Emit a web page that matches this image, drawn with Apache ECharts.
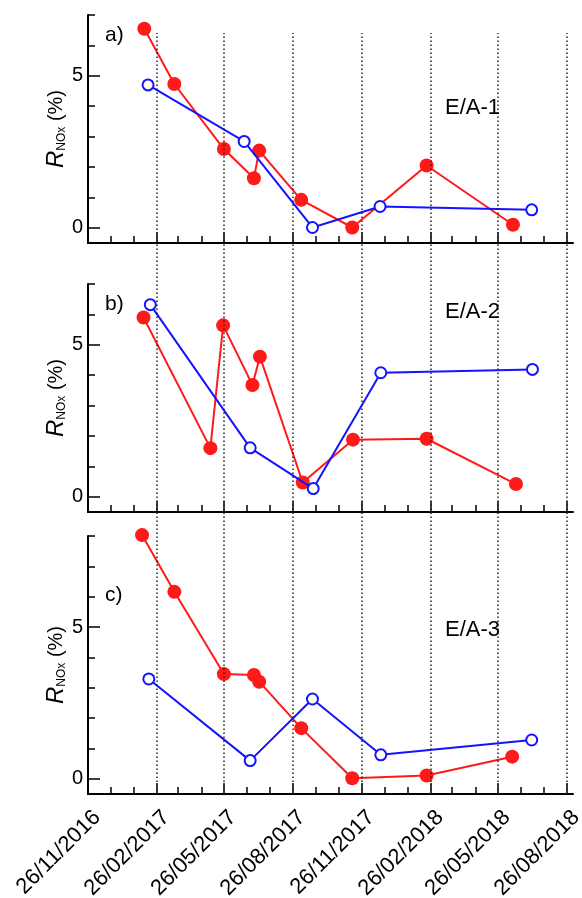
<!DOCTYPE html>
<html>
<head>
<meta charset="utf-8">
<script src="https://cdn.jsdelivr.net/npm/echarts@6/dist/echarts.min.js"></script>
<style>
  html, body { margin: 0; padding: 0; background: #fff; }
  #main { width: 582px; height: 898px; }
</style>
</head>
<body>
<div id="main"></div>
<script>
// panel a) E/A-1
var redDatesA = ['2017-02-09', '2017-03-21', '2017-05-26', '2017-07-05', '2017-07-12', '2017-09-06', '2017-11-13', '2018-02-20', '2018-06-15'];
var redValsA = [6.55, 4.73, 2.59, 1.63, 2.54, 0.92, 0.01, 2.05, 0.10];
var blueDatesA = ['2017-02-14', '2017-06-22', '2017-09-21', '2017-12-20', '2018-07-10'];
var blueValsA = [4.70, 2.84, 0.01, 0.70, 0.59];

// panel b) E/A-2
var redDatesB = ['2017-02-08', '2017-05-08', '2017-05-25', '2017-07-03', '2017-07-13', '2017-09-08', '2017-11-14', '2018-02-20', '2018-06-19'];
var redValsB = [5.90, 1.60, 5.64, 3.68, 4.61, 0.47, 1.88, 1.91, 0.42];
var blueDatesB = ['2017-02-17', '2017-06-30', '2017-09-22', '2017-12-21', '2018-07-11'];
var blueValsB = [6.32, 1.61, 0.27, 4.08, 4.19];

// panel c) E/A-3
var redDatesC = ['2017-02-06', '2017-03-21', '2017-05-26', '2017-07-05', '2017-07-12', '2017-09-06', '2017-11-13', '2018-02-20', '2018-06-14'];
var redValsC = [8.03, 6.16, 3.45, 3.42, 3.20, 1.67, 0.02, 0.11, 0.73];
var blueDatesC = ['2017-02-15', '2017-06-30', '2017-09-21', '2017-12-21', '2018-07-10'];
var blueValsC = [3.29, 0.60, 2.63, 0.79, 1.28];

// ticks
var majorTickDates = ['2016-11-26', '2017-02-26', '2017-05-26', '2017-08-26', '2017-11-26', '2018-02-26', '2018-05-26', '2018-08-26'];
var dottedDates = ['2017-02-26', '2017-05-26', '2017-08-26', '2017-11-26', '2018-02-26', '2018-05-26', '2018-08-26'];
var yMajor = [0, 5];
var yMinorAB = [1, 2, 3, 4, 6, 7];
var yMinorC = [1, 2, 3, 4, 6, 7, 8];

var panelLetters = ['a)', 'b)', 'c)'];
var panelNames = ['E/A-1', 'E/A-2', 'E/A-3'];

function t(s) {
    var p = s.split('-');
    return Date.UTC(+p[0], +p[1] - 1, +p[2]);
}
function pairs(dates, vals) {
    return dates.map(function (d, i) { return [t(d), vals[i]]; });
}
function fmtDate(v) {
    var d = new Date(v);
    var dd = ('0' + d.getUTCDate()).slice(-2);
    var mm = ('0' + (d.getUTCMonth() + 1)).slice(-2);
    return dd + '/' + mm + '/' + d.getUTCFullYear();
}

// monthly minor ticks on the 26th
var minorTicks = [];
for (var m = 0; m <= 21; m++) {
    minorTicks.push(Date.UTC(2016, 10 + m, 26));
}

var X_MIN = t('2016-11-26');
var X_MAX = t('2018-09-03');
var FONT = 'Liberation Sans, Arial, sans-serif';
var RED = '#ff1a1a';
var BLUE = '#1414ff';

var grids = [
    {left: 88, right: 9, top: 15, height: 228},
    {left: 88, right: 9, top: 284, height: 228},
    {left: 88, right: 9, top: 536, height: 258},
    {left: 88, right: 9, top: 33, height: 761},   // background for dotted lines
    {left: 97, width: 485, top: 536, height: 258}  // date labels, set a bit right of the ticks
];
grids.forEach(function (g) { g.outerBoundsMode = 'none'; });

var xAxes = [];
var yAxes = [];
var series = [];

[0, 1, 2].forEach(function (i) {
    var last = i === 2;
    xAxes.push({
        type: 'value', gridIndex: i, min: X_MIN, max: X_MAX, position: 'bottom',
        splitLine: {show: false},
        axisLine: {show: true, onZero: false, lineStyle: {color: '#000', width: 2}},
        axisTick: {show: true, inside: true, length: 11, customValues: majorTickDates.map(t),
            lineStyle: {color: '#000', width: 1.5}},
        axisLabel: {show: false}
    });
    xAxes.push({
        type: 'value', gridIndex: i, min: X_MIN, max: X_MAX, position: 'bottom',
        splitLine: {show: false},
        axisLine: {show: false, onZero: false},
        axisTick: {show: true, inside: true, length: 7, customValues: minorTicks,
            lineStyle: {color: '#000', width: 1.5}},
        axisLabel: {show: false}
    });
    var yMax = last ? 8 : 7;
    yAxes.push({
        type: 'value', gridIndex: i, min: -0.5, max: yMax, position: 'left',
        splitLine: {show: false},
        axisLine: {show: true, onZero: false, lineStyle: {color: '#000', width: 2}},
        axisTick: {show: true, inside: true, length: 12, customValues: yMajor,
            lineStyle: {color: '#000', width: 1.5}},
        axisLabel: {show: true, customValues: yMajor, margin: 5, fontSize: 20,
            fontFamily: FONT, color: '#000'},
        name: '{r|R}{s|NOx}{n| (%)}',
        nameLocation: 'middle',
        nameRotate: 90,
        nameGap: 20,
        nameMoveOverlap: false,
        nameTextStyle: {
            rich: {
                r: {fontSize: 24, fontStyle: 'italic', fontFamily: FONT, color: '#000', lineHeight: 24},
                s: {fontSize: 12, fontFamily: FONT, color: '#000', verticalAlign: 'bottom', lineHeight: 24},
                n: {fontSize: 20, fontFamily: FONT, color: '#000', lineHeight: 24}
            }
        }
    });
    yAxes.push({
        type: 'value', gridIndex: i, min: -0.5, max: yMax, position: 'left',
        splitLine: {show: false},
        axisLine: {show: false, onZero: false},
        axisTick: {show: true, inside: true, length: 7, customValues: last ? yMinorC : yMinorAB,
            lineStyle: {color: '#000', width: 1.5}},
        axisLabel: {show: false}
    });
});

// background axes for the dotted date lines
xAxes.push({type: 'value', gridIndex: 3, min: X_MIN, max: X_MAX, show: false});
yAxes.push({type: 'value', gridIndex: 3, min: 0, max: 1, show: false});

// date label axis
xAxes.push({
    type: 'value', gridIndex: 4, min: X_MIN, max: X_MAX, position: 'bottom',
    splitLine: {show: false},
    axisLine: {show: false, onZero: false},
    axisTick: {show: false},
    axisLabel: {show: true, customValues: majorTickDates.map(t), rotate: 45, margin: 20,
        fontSize: 22, fontFamily: FONT, color: '#000', formatter: fmtDate}
});
yAxes.push({type: 'value', gridIndex: 4, min: 0, max: 1, show: false});

series.push({
    type: 'line', xAxisIndex: 6, yAxisIndex: 6, data: [], z: 0, silent: true,
    markLine: {
        silent: true, symbol: ['none', 'none'], animation: false,
        label: {show: false},
        lineStyle: {color: '#222', width: 1.5, type: [1.5, 2.5]},
        data: dottedDates.map(function (d) { return {xAxis: t(d)}; })
    }
});

var redSets = [[redDatesA, redValsA], [redDatesB, redValsB], [redDatesC, redValsC]];
var blueSets = [[blueDatesA, blueValsA], [blueDatesB, blueValsB], [blueDatesC, blueValsC]];

[0, 1, 2].forEach(function (i) {
    series.push({
        type: 'line', xAxisIndex: i * 2, yAxisIndex: i * 2, z: 3, clip: false,
        data: pairs(redSets[i][0], redSets[i][1]),
        symbol: 'circle', symbolSize: 14, showAllSymbol: true,
        lineStyle: {color: RED, width: 2},
        itemStyle: {color: RED, borderWidth: 0}
    });
    series.push({
        type: 'line', xAxisIndex: i * 2, yAxisIndex: i * 2, z: 4, clip: false,
        data: pairs(blueSets[i][0], blueSets[i][1]),
        symbol: 'circle', symbolSize: 11, showAllSymbol: true,
        lineStyle: {color: BLUE, width: 2},
        itemStyle: {color: '#fff', borderColor: BLUE, borderWidth: 2}
    });
});

var letterY = [35, 304, 595];
var nameY = [108, 312, 630];
var graphics = [];
[0, 1, 2].forEach(function (i) {
    graphics.push({type: 'text', x: 105, y: letterY[i], z: 10,
        style: {text: panelLetters[i], font: '21px ' + FONT, fill: '#000', verticalAlign: 'middle'}});
    graphics.push({type: 'text', x: 445, y: nameY[i], z: 10,
        style: {text: panelNames[i], font: '22px ' + FONT, fill: '#000', verticalAlign: 'middle'}});
});

var chart = echarts.init(document.getElementById('main'));
chart.setOption({
    animation: false,
    backgroundColor: '#fff',
    grid: grids,
    xAxis: xAxes,
    yAxis: yAxes,
    series: series,
    graphic: graphics
});
</script>
</body>
</html>
